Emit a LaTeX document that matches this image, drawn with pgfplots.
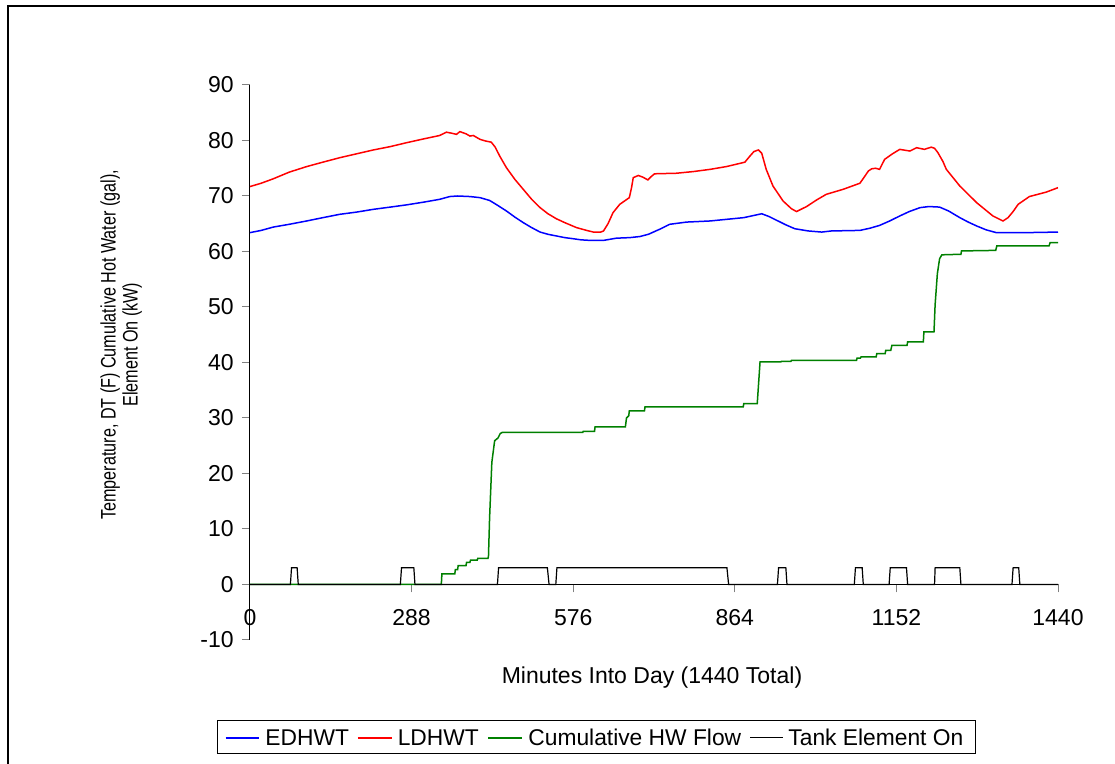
\documentclass[border=0pt]{standalone}
\usepackage{graphicx}
\usepackage{pgfplots}
\pgfplotsset{compat=1.18}
\usepackage{fontspec}
\setmainfont{Liberation Sans}
\definecolor{cblue}{RGB}{0,0,255}
\definecolor{cred}{RGB}{255,0,0}
\definecolor{cgreen}{RGB}{0,128,0}
\begin{document}\fontsize{11}{13}\selectfont%
\begin{tikzpicture}
\useasboundingbox (-125pt,-62pt) rectangle (432.5pt,320pt);
\fill[white] (-125pt,-62pt) rectangle (432.5pt,320pt);
\draw[line width=1pt] (-121pt,-80pt) -- (-121pt,317pt) -- (450pt,317pt);
\begin{axis}[
  at={(0pt,0pt)}, anchor=south west,
  scale only axis, width=404pt, height=277.5pt,
  xmin=0, xmax=1440, ymin=-10, ymax=90,
  axis lines=middle,
  axis line style={-, line width=0.5pt},
  every inner x axis line/.append style={-},
  every inner y axis line/.append style={-},
  hide obscured x ticks=false, hide obscured y ticks=false,
  xtick={0,288,576,864,1152,1440},
  ytick={-10,0,10,20,30,40,50,60,70,80,90},
  tick align=outside, major tick length=4pt,
  tick style={line width=0.5pt},
  /pgf/number format/assume math mode=true,
  /pgf/number format/1000 sep={},
  tick label style={font=\fontsize{11.5}{13.5}\selectfont},
  xticklabel style={anchor=north, yshift=-4.6pt},
  yticklabel style={anchor=east, xshift=-0.3pt},
  xlabel={Minutes Into Day (1440 Total)},
  ylabel={\scalebox{0.77}[1]{\begin{tabular}{@{}c@{}}Temperature, DT (F) Cumulative Hot Water (gal),\\ Element On (kW)\end{tabular}}},
  every axis x label/.style={at={(axis description cs:0.4975,-0.0685)}, anchor=center, font=\fontsize{11.5}{13.5}\selectfont},
  every axis y label/.style={at={(axis description cs:-0.158,0.532)}, rotate=90, anchor=center, font=\fontsize{10.5}{11}\selectfont},
]
\addplot[cblue, line width=0.75pt] coordinates {
(0,63.4) (20,63.8) (41.5,64.4) (70,64.9) (101,65.5) (130,66.1) (160,66.7) (190,67.1)
(220,67.6) (250,68.0) (279,68.4) (310,68.9) (338,69.4) (356,69.9) (370,70.0) (392,69.9)
(410,69.7) (427,69.2) (440,68.4) (457,67.3) (472,66.2) (487,65.2) (502,64.3) (517,63.5)
(531,63.1) (546,62.8) (561,62.5) (576,62.3) (590,62.1) (606,62.0) (630,62.0) (653,62.4)
(677,62.5) (695,62.7) (710,63.1) (730,64.0) (748,64.9) (778,65.3) (820,65.5) (850,65.8)
(880,66.1) (912,66.8) (925,66.3) (941,65.5) (955,64.8) (971,64.1) (995,63.7) (1019,63.5)
(1036,63.7) (1087,63.8) (1105,64.2) (1122,64.7) (1140,65.5) (1158,66.4) (1175,67.2)
(1194,67.9) (1210,68.1) (1229,68.0) (1245,67.3) (1265,66.1) (1280,65.3) (1295,64.6)
(1312,63.9) (1330,63.4) (1384,63.4) (1440,63.5)
};
\addplot[cred, line width=0.75pt] coordinates {
(0,71.7) (20,72.3) (41.5,73.1) (70,74.3) (101,75.3) (130,76.1) (160,76.9) (190,77.6)
(220,78.3) (250,78.9) (279,79.6) (310,80.3) (338,80.9) (350,81.5) (360,81.3) (368,81.1)
(374,81.6) (385,81.2) (392,80.8) (398,80.9) (410,80.2) (420,79.9) (430,79.7) (437,78.8)
(445,77.2) (457,75.1) (472,73.0) (487,71.2) (502,69.4) (517,67.9) (531,66.8) (546,65.9)
(561,65.2) (582,64.3) (600,63.8) (612,63.5) (625,63.5) (630,63.7) (638,65.0) (647,67.0)
(659,68.5) (676,69.7) (680,71.5) (683,73.3) (692,73.7) (700,73.4) (709,72.9) (715,73.5)
(721,74.0) (760,74.1) (790,74.4) (820,74.8) (849,75.3) (870,75.8) (882,76.1) (891,77.2)
(898,78.0) (906,78.3) (912,77.7) (920,74.8) (932,71.8) (950,69.1) (965,67.7) (974,67.2)
(992,68.1) (1010,69.3) (1027,70.3) (1057,71.2) (1087,72.3) (1096,73.6) (1102,74.5)
(1108,74.9) (1115,75.0) (1122,74.8) (1131,76.6) (1145,77.6) (1158,78.4) (1176,78.1)
(1188,78.7) (1202,78.4) (1214,78.8) (1220,78.6) (1226,77.8) (1235,76.2) (1241,74.8)
(1265,71.8) (1295,68.8) (1324,66.4) (1342,65.5) (1351,66.1) (1360,67.2) (1369,68.5)
(1389,69.9) (1419,70.7) (1440,71.5)
};
\addplot[cgreen, line width=0.75pt] coordinates {
(0,0) (341,0) (342,1.9) (365,1.9) (366,2.7) (370,2.7) (371,3.4) (385,3.4) (386,4.0)
(392,4.0) (393,4.4) (405,4.4) (406,4.7) (424,4.7) (425,5.0) (427,12) (431,22) (436,25.9)
(442,26.4) (446,27.2) (449.5,27.4) (593,27.4) (594,27.6) (614,27.6) (615,28.4) (669,28.4)
(671,30.0) (675,30.4) (676,31.3) (703,31.3) (704,32.0) (879,32.0) (880,32.6) (904,32.6)
(909,40.1) (946,40.1) (947,40.2) (964,40.2) (965,40.4) (1081,40.4) (1082,40.8) (1088,40.8)
(1089,41.0) (1116,41.0) (1117,41.6) (1132,41.6) (1133,42.2) (1142,42.2) (1144,43.1)
(1171,43.1) (1172,43.7) (1200,43.7) (1201,45.5) (1219,45.5) (1221,50.4) (1225,56.0)
(1229,58.7) (1233,59.4) (1267,59.5) (1268,60.1) (1329,60.2) (1331,61.0) (1424,61.0)
(1426,61.6) (1440,61.6)
};
\addplot[black, line width=0.6pt] coordinates {
(0,0) (72,0) (74,3) (84,3) (86,0)
(268,0) (270,3) (292,3) (294,0)
(441,0) (443,3) (530,3) (533,0) (545,0) (547,3) (850,3) (853,0)
(940,0) (942,3) (955,3) (957,0)
(1077,0) (1079,3) (1091,3) (1093,0)
(1139,0) (1141,3) (1170,3) (1172,0)
(1220,0) (1221,3) (1265,3) (1267,0)
(1358,0) (1360,3) (1370,3) (1372,0)
(1440,0)
};
\end{axis}
% legend
\draw[line width=0.5pt, fill=white] (-16pt,-40.5pt) rectangle (362.5pt,-57pt);
\draw[cblue, line width=0.75pt] (-12.2pt,-48.9pt) -- (4.5pt,-48.9pt);
\node[anchor=base west, inner sep=0pt, font=\fontsize{11.4}{13}\selectfont] at (7.5pt,-52.9pt) {EDHWT};
\draw[cred, line width=0.75pt] (54pt,-48.9pt) -- (71pt,-48.9pt);
\node[anchor=base west, inner sep=0pt, font=\fontsize{11.4}{13}\selectfont] at (73.7pt,-52.9pt) {LDHWT};
\draw[cgreen, line width=0.75pt] (119pt,-48.9pt) -- (136pt,-48.9pt);
\node[anchor=base west, inner sep=0pt, font=\fontsize{11.4}{13}\selectfont] at (139pt,-52.9pt) {Cumulative HW Flow};
\draw[black, line width=0.6pt] (250pt,-48.9pt) -- (266.5pt,-48.9pt);
\node[anchor=base west, inner sep=0pt, font=\fontsize{11.4}{13}\selectfont] at (269pt,-52.9pt) {Tank Element On};
\end{tikzpicture}%
\end{document}
